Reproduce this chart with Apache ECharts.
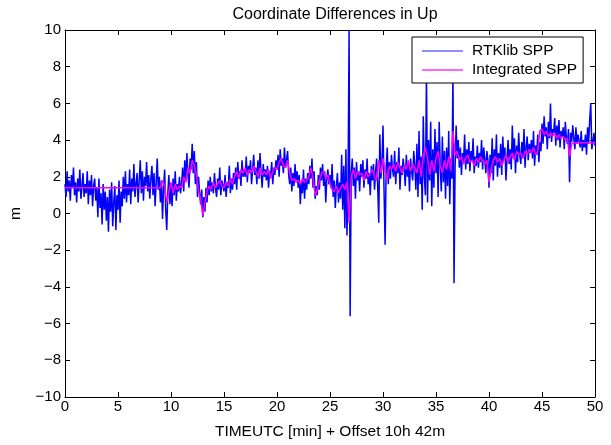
<!DOCTYPE html>
<html>
<head>
<meta charset="utf-8">
<script src="https://cdn.jsdelivr.net/npm/echarts@6/dist/echarts.min.js"></script>
<style>html,body{margin:0;padding:0;background:#fff;}#c{width:611px;height:445px;}</style>
</head>
<body>
<div id="c"></div>
<script>
// time axis settings (minutes)
const rtkStep = 0.1;
const intStep = 0.2;
const xTicks = [0,5,10,15,20,25,30,35,40,45,50];
const yTicks = [-10,-8,-6,-4,-2,0,2,4,6,8,10];

// RTKlib SPP (blue), one row per minute, 0.1 min spacing
const rtkValues = [
1.6,0.9,2.3,1.2,1.8,0.7,2.1,1.4,2.5,1.0,
1.7,0.6,1.9,1.2,2.4,0.8,1.5,2.2,0.9,1.6,
1.1,2.3,0.5,1.8,1.0,2.1,0.4,1.5,1.9,0.7,
1.4,-0.2,1.9,0.3,1.1,-0.6,1.6,0.2,1.2,-0.4,
0.9,-1.0,1.3,0.1,1.7,-0.7,0.6,1.5,-0.9,1.0,
0.2,1.8,-0.5,1.2,0.4,2.0,0.8,2.3,0.6,1.6,
1.0,2.4,0.5,1.9,1.2,2.7,0.9,1.6,2.2,0.6,
1.8,2.9,1.1,2.3,0.7,2.0,1.5,2.8,1.2,2.1,
0.8,1.9,2.6,1.0,2.2,0.4,1.7,3.0,1.3,2.0,
0.6,1.8,-0.3,1.4,2.4,0.2,-0.9,1.1,2.1,0.5,
1.5,0.4,1.9,1.0,2.3,0.7,1.6,1.2,2.0,1.1,
1.6,2.5,1.2,2.9,1.8,3.3,2.1,1.4,3.0,2.4,
3.8,2.2,3.4,1.6,2.8,0.9,2.0,1.1,0.5,1.3,
-0.2,0.9,0.1,1.4,0.6,1.8,1.0,2.0,1.2,1.7,
1.1,2.2,1.4,0.9,1.9,1.3,2.5,1.0,1.8,1.5,
1.2,2.1,0.9,1.7,1.4,2.6,1.1,1.9,1.3,2.2,
1.6,2.5,1.3,2.8,1.9,2.3,1.5,2.9,2.0,2.4,
2.0,3.1,1.7,2.6,2.2,2.9,1.6,2.4,3.2,2.1,
2.5,1.6,2.9,1.9,3.3,2.2,1.4,2.7,2.0,2.4,
1.8,2.6,1.4,2.3,2.0,2.8,1.6,2.5,2.1,2.9,
2.4,3.2,2.0,3.5,2.6,3.0,2.2,3.6,2.5,2.9,
3.4,2.1,1.6,2.5,1.2,2.2,1.5,2.7,1.8,2.3,
1.4,2.1,0.5,1.7,1.1,2.4,0.8,1.9,1.3,2.2,
1.6,2.6,1.9,3.0,1.4,2.3,0.8,1.5,1.0,2.1,
1.3,2.5,1.8,2.7,1.5,2.3,0.6,1.9,2.4,1.6,
2.1,1.4,2.7,0.9,1.8,0.3,1.5,2.2,0.6,1.7,
0.8,3.2,0.2,2.6,-0.8,3.5,-1.2,1.5,10.0,-5.6,
2.2,3.0,1.5,2.5,0.8,2.8,1.8,2.3,1.2,2.7,
2.0,2.9,1.4,2.4,1.9,3.0,1.6,2.2,1.0,2.6,
1.8,2.7,1.3,2.3,3.0,1.5,-0.5,4.3,1.9,2.6,
4.8,1.2,-1.7,2.5,3.6,1.6,2.8,1.9,3.2,2.4,
2.0,3.4,1.6,2.8,2.2,3.6,1.3,2.6,2.1,3.0,
2.4,1.5,3.2,2.0,2.7,1.2,3.0,2.3,1.8,3.4,
2.6,1.3,3.8,0.9,4.5,1.6,3.1,0.2,5.3,2.0,
1.0,7.6,0.6,4.0,1.8,5.0,0.4,3.5,1.4,4.6,
2.2,3.9,0.9,5.0,2.6,1.2,4.2,1.7,3.4,0.8,
3.6,1.5,4.5,0.5,3.0,1.9,7.6,-3.8,2.5,4.8,
3.0,4.0,2.5,3.6,2.1,3.3,2.8,4.3,2.4,3.5,
2.7,3.9,2.3,3.4,2.9,4.1,2.2,3.1,2.6,3.7,
2.5,3.3,2.8,4.0,2.4,3.6,3.0,2.2,3.4,2.9,
1.4,3.2,2.2,4.1,1.8,3.5,2.6,4.3,2.0,3.3,
2.5,3.8,2.1,4.2,2.9,3.6,1.8,3.0,4.0,2.7,
3.5,2.4,4.8,3.0,4.1,2.2,3.7,2.8,4.4,3.2,
2.7,3.9,3.1,4.6,2.5,3.6,4.2,2.9,3.8,3.3,
4.0,3.0,4.5,2.6,3.7,3.2,4.3,2.8,3.9,3.4,
4.9,3.8,5.3,4.2,4.7,3.5,5.0,4.1,6.0,3.9,
4.6,4.4,5.2,3.7,4.8,4.0,5.1,3.6,4.5,4.2,
4.7,3.5,5.0,4.1,3.8,4.6,1.7,4.4,3.9,4.8,
4.1,3.5,4.7,3.8,4.3,4.2,3.6,4.5,3.4,4.0,
3.6,4.3,3.2,4.7,3.8,5.1,6.0,3.5,3.9,4.4,
3.7
];

// Integrated SPP (magenta), one row per minute, 0.2 min spacing
const intValues = [
1.4,1.4,1.4,1.4,1.4,
1.4,1.4,1.4,1.4,1.4,
1.4,1.4,1.4,1.4,1.4,
1.4,1.4,1.4,1.4,1.4,
1.4,1.4,1.4,1.4,1.4,
1.4,1.4,1.4,1.4,1.4,
1.4,1.4,1.4,1.4,1.4,
1.4,1.4,1.4,1.4,1.4,
1.4,1.4,1.4,1.4,1.4,
1.4,1.8,1.5,0.6,1.2,
1.7,1.1,1.6,1.3,1.5,
1.4,2.0,1.7,2.5,2.2,
2.9,2.6,2.1,1.2,0.8,
-0.1,0.6,1.2,1.5,1.3,
1.7,1.4,1.6,1.8,1.5,
1.4,1.7,1.5,1.9,1.6,
2.0,2.3,1.9,2.4,2.2,
2.5,2.1,2.4,2.2,2.6,
2.3,2.0,2.5,2.1,2.3,
2.1,2.4,1.9,2.3,2.5,
2.4,2.8,3.0,2.6,2.5,
2.9,2.2,1.8,1.9,1.7,
1.8,1.6,1.9,1.7,1.8,
2.0,2.5,1.9,1.0,1.3,
1.8,2.2,2.3,1.9,2.1,
1.6,1.3,1.2,1.5,1.1,
1.4,1.6,1.3,1.7,-0.5,
2.0,2.4,1.9,2.3,2.1,
2.2,1.8,2.3,2.0,2.2,
2.4,2.0,1.8,2.9,2.2,
3.0,2.3,1.8,2.6,2.4,
2.7,2.3,2.8,2.5,2.2,
2.6,2.4,2.9,2.3,2.7,
2.5,2.2,2.9,2.0,3.1,
3.6,3.0,2.1,2.9,2.3,
3.0,3.4,2.6,2.2,2.9,
2.4,3.1,2.3,4.5,3.2,
3.4,2.9,3.1,2.7,3.0,
3.2,2.8,2.9,2.6,3.0,
2.8,3.1,2.9,2.7,2.9,
1.7,2.4,2.9,3.1,2.8,
3.0,2.6,2.9,3.2,2.8,
3.1,3.3,2.9,3.4,3.2,
3.3,3.0,3.4,3.2,3.5,
3.3,3.6,3.2,3.4,4.5,
4.6,4.3,4.5,4.2,4.4,
4.2,4.4,4.1,4.3,4.1,
4.2,4.0,4.1,3.1,3.8,
3.85,3.85,3.85,3.85,3.85,
3.85,3.85,3.85,3.85,3.85,
3.85
];

const rtkData = rtkValues.map((v, i) => [+(i * rtkStep).toFixed(2), v]);
const intData = intValues.map((v, i) => [+(i * intStep).toFixed(2), v]);

const font = 'Liberation Sans, Arial, sans-serif';
const fmt = v => String(v).replace('-', '\u2212');

const chart = echarts.init(document.getElementById('c'), null, {renderer: 'canvas'});
const axisCommon = {
  axisLine: {show: true, onZero: false, lineStyle: {color: '#000', width: 1}},
  axisTick: {show: true, inside: true, length: 5, lineStyle: {color: '#000'}},
  splitLine: {show: false}
};
chart.setOption({
  animation: false,
  backgroundColor: '#fff',
  title: {
    text: 'Coordinate Differences in Up',
    left: 330, top: 2, textAlign: 'center',
    textStyle: {fontFamily: font, fontSize: 16, fontWeight: 'normal', color: '#000'}
  },
  grid: {left: 65, right: 16, top: 30, bottom: 40},
  legend: {
    orient: 'vertical', left: 412, top: 37,
    backgroundColor: '#fff', borderColor: '#000', borderWidth: 1,
    padding: [6, 6, 5, 10], itemGap: 3,
    itemWidth: 41, itemHeight: 1.5, icon: 'rect',
    textStyle: {fontFamily: font, fontSize: 15.5, color: '#000', lineHeight: 14, padding: [0, 0, 0, 4]},
    data: [
      {name: 'RTKlib SPP', itemStyle: {color: '#6a6aff'}},
      {name: 'Integrated SPP', itemStyle: {color: '#ff33ff'}}
    ]
  },
  xAxis: [
    Object.assign({}, axisCommon, {
      type: 'value', min: 0, max: 50, interval: 5, position: 'bottom',
      name: 'TIMEUTC [min] + Offset 10h 42m', nameLocation: 'middle', nameGap: 27,
      nameTextStyle: {fontFamily: font, fontSize: 15.5, color: '#000'},
      axisLabel: {fontFamily: font, fontSize: 15, color: '#000', margin: 2, formatter: fmt}
    }),
    Object.assign({}, axisCommon, {
      type: 'value', min: 0, max: 50, interval: 5, position: 'top',
      axisLabel: {show: false}
    })
  ],
  yAxis: [
    Object.assign({}, axisCommon, {
      type: 'value', min: -10, max: 10, interval: 2, position: 'left',
      name: 'm', nameLocation: 'middle', nameGap: 41, nameRotate: 90,
      nameTextStyle: {fontFamily: font, fontSize: 15.5, color: '#000'},
      axisLabel: {fontFamily: font, fontSize: 15, color: '#000', margin: 4, formatter: fmt}
    }),
    Object.assign({}, axisCommon, {
      type: 'value', min: -10, max: 10, interval: 2, position: 'right',
      axisLabel: {show: false}
    })
  ],
  series: [
    {
      name: 'RTKlib SPP', type: 'line', data: rtkData,
      xAxisIndex: 0, yAxisIndex: 0,
      symbol: 'none', lineStyle: {color: '#0000ff', width: 1.5}, itemStyle: {color: '#0000ff'},
      z: 2
    },
    {
      name: 'Integrated SPP', type: 'line', data: intData,
      xAxisIndex: 0, yAxisIndex: 0,
      symbol: 'none', lineStyle: {color: '#ff00ff', width: 1.5}, itemStyle: {color: '#ff00ff'},
      z: 3
    }
  ]
});
</script>
</body>
</html>
